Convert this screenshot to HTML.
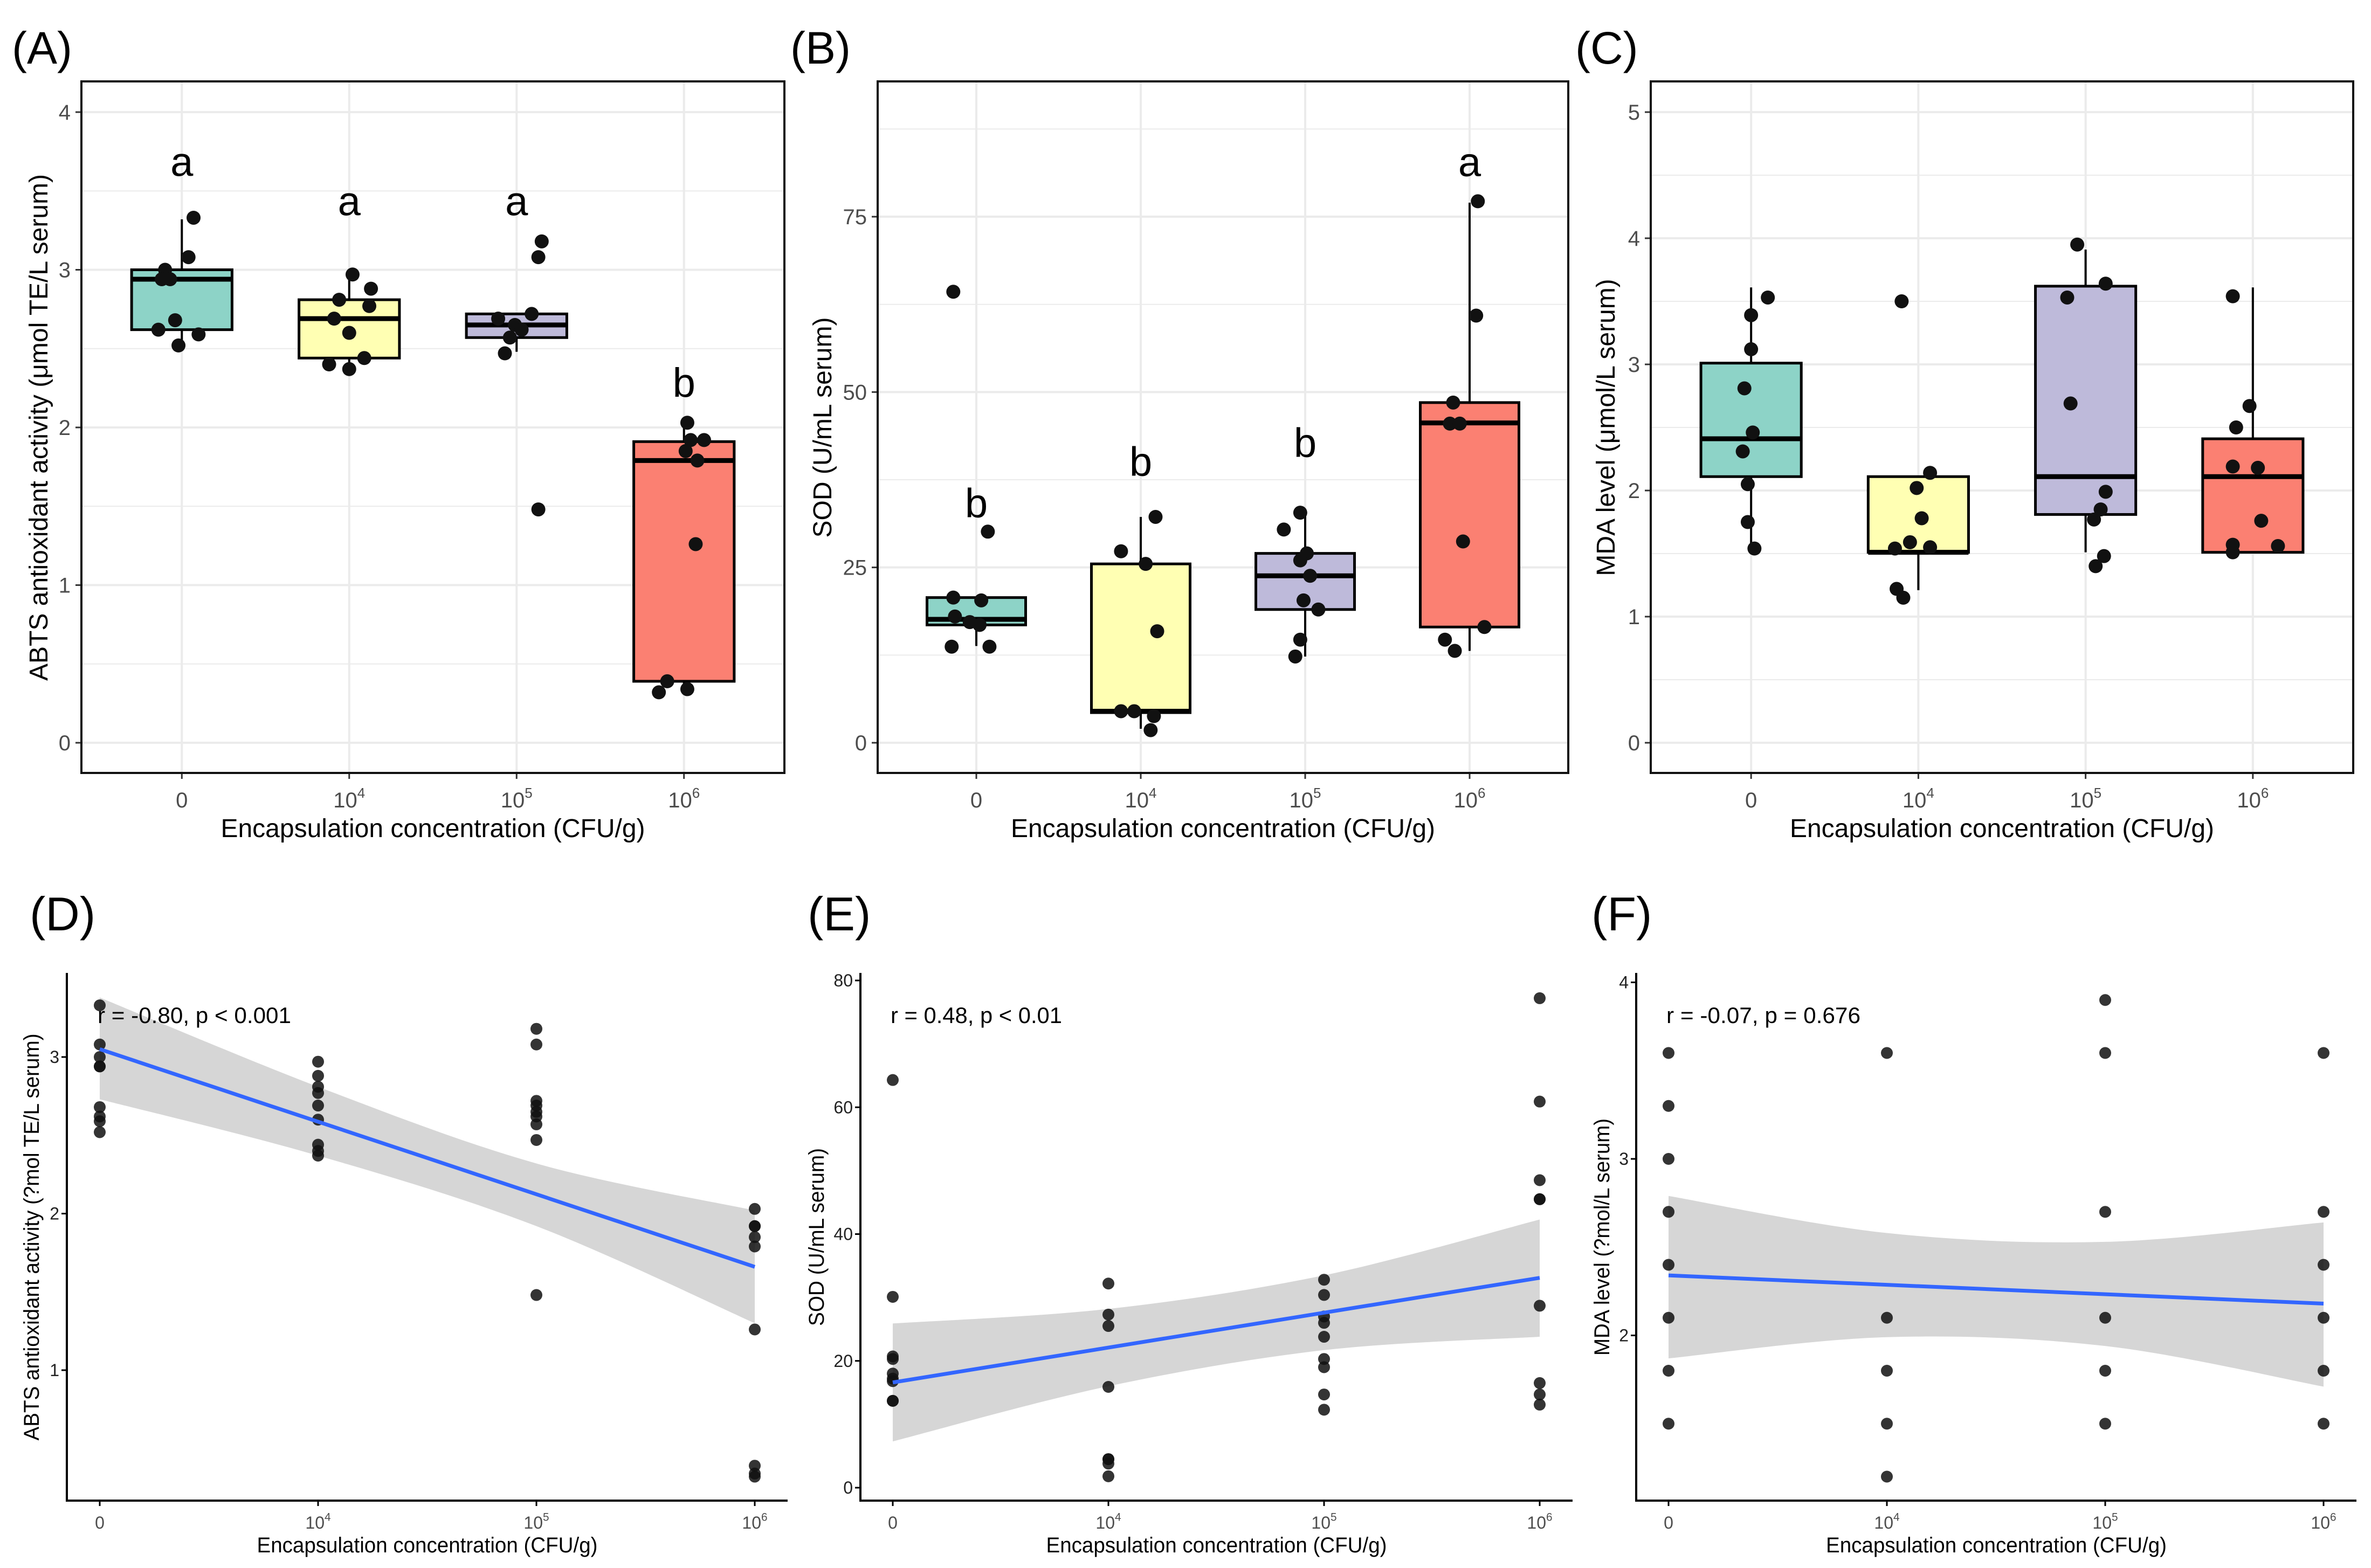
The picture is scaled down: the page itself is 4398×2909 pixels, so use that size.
<!DOCTYPE html>
<html><head><meta charset="utf-8">
<style>
html,body{margin:0;padding:0;background:#fff;}
svg{display:block;font-family:"Liberation Sans",Arial,sans-serif;}
</style></head>
<body>
<svg id="fig" width="4398" height="2909" viewBox="0 0 4398 2909" xmlns="http://www.w3.org/2000/svg"></svg>
<script>
// ---------- DATA ----------
const categories = ["0","10^4","10^5","10^6"];
const boxColors = ["#8DD3C7","#FFFFB3","#BEBADA","#FB8072"];

// Panel A ABTS values per group
const abts0 = [3.33,3.08,3.00,2.94,2.94,2.68,2.62,2.59,2.52];
const abts1 = [2.97,2.88,2.81,2.77,2.69,2.60,2.44,2.40,2.37];
const abts2 = [3.18,3.08,2.72,2.69,2.65,2.62,2.57,2.47,1.48];
const abts3 = [2.03,1.92,1.92,1.85,1.79,1.26,0.39,0.32,0.34];
const abtsJit0 = [.07,.04,-.10,-.12,-.07,-.04,-.14,.10,-.02];
const abtsJit1 = [.02,.13,-.06,.12,-.09,0,.09,-.12,0];
const abtsJit2 = [.15,.13,.09,-.11,-.01,.03,-.04,-.07,.13];
const abtsJit3 = [.02,.04,.12,.01,.08,.07,-.10,-.15,.02];
// box stats [q1, median, q3, whiskerLow, whiskerHigh]
const abtsBox = [[2.62,2.94,3.00,2.52,3.32],[2.44,2.69,2.81,2.37,2.97],[2.57,2.65,2.72,2.48,2.72],[0.39,1.79,1.91,0.32,2.03]];
const abtsLetters = ["a","a","a","b"];
const abtsLetterY = [3.68,3.43,3.43,2.28];

// Panel B SOD
const sod0 = [64.3,30.1,20.7,20.3,18.0,17.2,16.8,13.7,13.7];
const sod1 = [32.2,27.3,25.5,15.9,4.5,4.5,3.8,1.8];
const sod2 = [32.8,30.4,27.0,26.0,23.8,20.3,19.0,14.7,12.3];
const sod3 = [77.2,60.9,48.5,45.5,45.5,28.7,16.5,14.7,13.1];
const sodJit0 = [-.14,.07,-.14,.03,-.13,-.04,.02,-.15,.08];
const sodJit1 = [.09,-.12,.03,.10,-.12,-.04,.08,.06];
const sodJit2 = [-.03,-.13,.01,-.03,.03,-.01,.08,-.03,-.06];
const sodJit3 = [.05,.04,-.10,-.12,-.06,-.04,.09,-.15,-.09];
const sodBox = [[16.8,17.6,20.7,13.8,20.7],[4.3,4.5,25.5,2.0,32.2],[19.0,23.8,27.0,12.3,32.8],[16.5,45.6,48.5,13.1,77.0]];
const sodLetters = ["b","b","b","a"];
const sodLetterY = [34.1,40.0,42.7,82.7];

// Panel C MDA
const mda0 = [3.53,3.39,3.12,2.81,2.46,2.31,2.05,1.75,1.54];
const mda1 = [3.50,2.14,2.02,1.78,1.59,1.54,1.55,1.22,1.15];
const mda2 = [3.95,3.64,3.53,2.69,1.99,1.85,1.77,1.48,1.40];
const mda3 = [3.54,2.67,2.50,2.19,2.18,1.76,1.57,1.56,1.51];
const mdaJit0 = [.10,0,0,-.04,.01,-.05,-.02,-.02,.02];
const mdaJit1 = [-.10,.07,-.01,.02,-.05,-.14,.07,-.13,-.09];
const mdaJit2 = [-.05,.12,-.11,-.09,.12,.09,.05,.11,.06];
const mdaJit3 = [-.12,-.02,-.10,-.12,.03,.05,-.12,.15,-.12];
const mdaBox = [[2.11,2.41,3.01,1.54,3.61],[1.51,1.51,2.11,1.21,2.11],[1.81,2.11,3.62,1.51,3.91],[1.51,2.11,2.41,1.51,3.61]];

// Panel F MDA (as plotted in correlation panel)
const mdaF0 = [3.6,3.3,3.0,2.7,2.4,2.1,1.8,1.5];
const mdaF1 = [3.6,2.1,1.8,1.5,1.2];
const mdaF2 = [3.9,3.6,2.7,2.1,1.8,1.5];
const mdaF3 = [3.6,2.7,2.4,2.1,1.8,1.5];

// regression lines [at first cat, at last cat] and CI bands per category
const dLine = [3.05,1.66];
const dBandHi = [3.38,2.81,2.32,2.02];
const dBandLo = [2.73,2.37,1.92,1.30];
const eLine = [16.6,33.1];
const eBandHi = [25.9,28.2,33.5,42.3];
const eBandLo = [7.3,16.0,21.7,23.8];
const fLine = [2.34,2.18];
const fBandHi = [2.79,2.58,2.53,2.64];
const fBandLo = [1.87,1.99,1.94,1.71];

const abtsTicks = [0,1,2,3,4];
const sodTicks = [0,25,50,75];
const mdaTicks = [0,1,2,3,4,5];
const dTicks = [1,2,3];
const eTicks = [0,20,40,60,80];
const fTicks = [2,3,4];
const dStat = "r = -0.80, p < 0.001";
const eStat = "r = 0.48, p < 0.01";
const fStat = "r = -0.07, p = 0.676";

// ---------- DRAWING ----------
const NS = "http://www.w3.org/2000/svg";
const svg = document.getElementById("fig");
function mk(tag, attrs, parent){
  const e = document.createElementNS(NS, tag);
  for (const k in attrs) e.setAttribute(k, attrs[k]);
  (parent||svg).appendChild(e);
  return e;
}
function catLabel(parent, x, y, i, fs, name){
  const t = mk("text", {x:x, y:y, "text-anchor":"middle", "font-size":fs, fill:"#4d4d4d"}, parent);
  
  
  const c = categories[i];
  if (c.indexOf("^") < 0) { t.textContent = c; return t; }
  const parts = c.split("^");
  const a = document.createElementNS(NS, "tspan"); a.textContent = parts[0]; t.appendChild(a);
  const b = document.createElementNS(NS, "tspan"); b.textContent = parts[1];
  b.setAttribute("dy", -fs*0.45); b.setAttribute("font-size", fs*0.65); t.appendChild(b);
  return t;
}
function panelLetter(txt, x, y, fs){
  const t = mk("text", {x:x, y:y, "font-size":fs, fill:"#000"});
  
  
  t.textContent = txt;
}

// ---- Box panels ----
function boxPanel(cfg){
  const g = mk("g", {});
  
  
  const W = cfg.R - cfg.L, unit = W/4.2;
  const X = i => cfg.L + (i+0.6)*unit;
  const Y = v => cfg.y0 - v*cfg.k;
  const step = cfg.ticks[1]-cfg.ticks[0];
  for (let v = step/2; Y(v) > cfg.T; v += step) {
    const l = mk("line", {x1:cfg.L, x2:cfg.R, y1:Y(v), y2:Y(v), stroke:"#ebebeb", "stroke-width":2}, g);
    
    
  }
  cfg.ticks.forEach(v => {
    const l = mk("line", {x1:cfg.L, x2:cfg.R, y1:Y(v), y2:Y(v), stroke:"#ebebeb", "stroke-width":4}, g);
    
    
    const tk = mk("line", {x1:cfg.L-11, x2:cfg.L, y1:Y(v), y2:Y(v), stroke:"#333", "stroke-width":3}, g);
    
    
    const t = mk("text", {x:cfg.L-20, y:Y(v)+14, "text-anchor":"end", "font-size":40, fill:"#4d4d4d"}, g);
    
    
    t.textContent = v;
  });
  for (let i=0;i<4;i++){
    const l = mk("line", {x1:X(i), x2:X(i), y1:cfg.T, y2:cfg.B, stroke:"#ebebeb", "stroke-width":4}, g);
    
    
    const tk = mk("line", {x1:X(i), x2:X(i), y1:cfg.B, y2:cfg.B+11, stroke:"#333", "stroke-width":3}, g);
    
    
    catLabel(g, X(i), cfg.B+64, i, 40, 'x-tick-label');
  }
  const hw = 0.3*unit;
  for (let i=0;i<4;i++){
    const s = cfg.box[i];
    const bg = mk("g", {}, g);
    
    
    const w1 = mk("line", {x1:X(i), x2:X(i), y1:Y(s[2]), y2:Y(s[4]), stroke:"#000", "stroke-width":4}, bg);
    
    
    const w2 = mk("line", {x1:X(i), x2:X(i), y1:Y(s[0]), y2:Y(s[3]), stroke:"#000", "stroke-width":4}, bg);
    
    
    const r = mk("rect", {x:X(i)-hw, y:Y(s[2]), width:2*hw, height:Y(s[0])-Y(s[2]), fill:cfg.colors[i], stroke:"#000", "stroke-width":5}, bg);
    
    
    const m = mk("line", {x1:X(i)-hw, x2:X(i)+hw, y1:Y(s[1]), y2:Y(s[1]), stroke:"#000", "stroke-width":9}, bg);
    
    
  }
  for (let i=0;i<4;i++){
    cfg.pts[i].forEach((v,j) => {
      const c = mk("circle", {cx:X(i)+cfg.jit[i][j]*unit, cy:Y(v), r:13, fill:"#111"}, g);
      
      
    });
  }
  if (cfg.letters){
    for (let i=0;i<4;i++){
      const t = mk("text", {x:X(i), y:Y(cfg.letterY[i])+25, "text-anchor":"middle", "font-size":76, fill:"#000"}, g);
      
      
      t.textContent = cfg.letters[i];
    }
  }
  const fr = mk("rect", {x:cfg.L, y:cfg.T, width:W, height:cfg.B-cfg.T, fill:"none", stroke:"#111", "stroke-width":4}, g);
  
  
  const xt = mk("text", {x:(cfg.L+cfg.R)/2, y:1553, "text-anchor":"middle", "font-size":48, fill:"#000"}, g);
  
  
  xt.textContent = "Encapsulation concentration (CFU/g)";
  const yt = mk("text", {x:0, y:0, "text-anchor":"middle", "font-size":48, fill:"#000", transform:`translate(${cfg.ytx},793) rotate(-90)`}, g);
  
  
  yt.textContent = cfg.ytitle;
}

boxPanel({name:"panel-a-abts-boxplot", L:151, R:1455, T:151, B:1434, y0:1378, k:292.5, ticks:abtsTicks,
  box:abtsBox, pts:[abts0,abts1,abts2,abts3], jit:[abtsJit0,abtsJit1,abtsJit2,abtsJit3], colors:boxColors,
  letters:abtsLetters, letterY:abtsLetterY, ytx:88, ytitle:"ABTS antioxidant activity (\u03bcmol TE/L serum)"});
boxPanel({name:"panel-b-sod-boxplot", L:1628, R:2909, T:151, B:1434, y0:1378, k:13.013, ticks:sodTicks,
  box:sodBox, pts:[sod0,sod1,sod2,sod3], jit:[sodJit0,sodJit1,sodJit2,sodJit3], colors:boxColors,
  letters:sodLetters, letterY:sodLetterY, ytx:1542, ytitle:"SOD (U/mL serum)"});
boxPanel({name:"panel-c-mda-boxplot", L:3062, R:4365, T:151, B:1434, y0:1378, k:234, ticks:mdaTicks,
  box:mdaBox, pts:[mda0,mda1,mda2,mda3], jit:[mdaJit0,mdaJit1,mdaJit2,mdaJit3], colors:boxColors,
  letters:null, ytx:2995, ytitle:"MDA level (\u03bcmol/L serum)"});

panelLetter("(A)", 22, 118, 84);
panelLetter("(B)", 1466, 118, 84);
panelLetter("(C)", 2922, 118, 84);

// ---- Scatter panels ----
function smoothPath(pts){
  let d = `M${pts[0][0]},${pts[0][1]}`;
  for (let i=0;i<pts.length-1;i++){
    const p0 = pts[Math.max(0,i-1)], p1 = pts[i], p2 = pts[i+1], p3 = pts[Math.min(pts.length-1,i+2)];
    const c1 = [p1[0]+(p2[0]-p0[0])/6, p1[1]+(p2[1]-p0[1])/6];
    const c2 = [p2[0]-(p3[0]-p1[0])/6, p2[1]-(p3[1]-p1[1])/6];
    d += ` C${c1[0]},${c1[1]} ${c2[0]},${c2[1]} ${p2[0]},${p2[1]}`;
  }
  return d;
}
function scatterPanel(cfg){
  const g = mk("g", {});
  
  
  const X = i => cfg.x0 + i*cfg.dx;
  const Y = v => cfg.yRef - (v - cfg.vRef)*cfg.k;
  const hi = cfg.hi.map((v,i)=>[X(i),Y(v)]);
  const lo = cfg.lo.map((v,i)=>[X(i),Y(v)]).reverse();
  let d = smoothPath(hi);
  d += ` L${lo[0][0]},${lo[0][1]}` + smoothPath(lo).replace(/^M[^C]*/, " ") + " Z";
  const band = mk("path", {d:d, fill:"#d6d6d6"}, g);
  
  
  cfg.pts.forEach((arr,i) => arr.forEach(v => {
    const c = mk("circle", {cx:X(i), cy:Y(v), r:11, fill:"#111", "fill-opacity":0.85}, g);
    
    
  }));
  const ln = mk("line", {x1:X(0), y1:Y(cfg.line[0]), x2:X(3), y2:Y(cfg.line[1]), stroke:"#3366FF", "stroke-width":7}, g);
  
  
  const ya = mk("line", {x1:cfg.L, x2:cfg.L, y1:cfg.T, y2:cfg.B, stroke:"#000", "stroke-width":4}, g);
  
  
  const xa = mk("line", {x1:cfg.L-2, x2:cfg.R, y1:cfg.B, y2:cfg.B, stroke:"#000", "stroke-width":4}, g);
  
  
  cfg.ticks.forEach(v => {
    const tk = mk("line", {x1:cfg.L-10, x2:cfg.L, y1:Y(v), y2:Y(v), stroke:"#000", "stroke-width":3}, g);
    
    
    const t = mk("text", {x:cfg.L-14, y:Y(v)+11, "text-anchor":"end", "font-size":32, fill:"#222"}, g);
    
    
    t.textContent = v;
  });
  for (let i=0;i<4;i++){
    const tk = mk("line", {x1:X(i), x2:X(i), y1:cfg.B, y2:cfg.B+10, stroke:"#000", "stroke-width":3}, g);
    
    
    catLabel(g, X(i), cfg.B+52, i, 32, 'x-tick-label');
  }
  const st = mk("text", {x:cfg.x0-4, y:1898, "font-size":42, fill:"#000", textLength:cfg.statW, lengthAdjust:"spacingAndGlyphs"}, g);
  
  
  st.textContent = cfg.stat;
  const xt = mk("text", {x:(cfg.L+cfg.R)/2, y:2880, "text-anchor":"middle", "font-size":40, fill:"#000", textLength:632, lengthAdjust:"spacingAndGlyphs"}, g);
  
  
  xt.textContent = "Encapsulation concentration (CFU/g)";
  const yt = mk("text", {x:0, y:0, "text-anchor":"middle", "font-size":40, fill:"#000", textLength:cfg.ytW, lengthAdjust:"spacingAndGlyphs", transform:`translate(${cfg.ytx},2295) rotate(-90)`}, g);
  
  
  yt.textContent = cfg.ytitle;
}

scatterPanel({name:"panel-d-abts-correlation", L:124, R:1461, T:1805, B:2784, x0:185, dx:405,
  yRef:1961, vRef:3, k:290.5, ticks:dTicks, pts:[abts0,abts1,abts2,abts3], line:dLine, hi:dBandHi, lo:dBandLo,
  stat:dStat, statW:359, ytx:72, ytW:755, ytitle:"ABTS antioxidant activity (?mol TE/L serum)"});
scatterPanel({name:"panel-e-sod-correlation", L:1596, R:2917, T:1805, B:2784, x0:1656, dx:400,
  yRef:2760, vRef:0, k:11.7625, ticks:eTicks, pts:[sod0,sod1,sod2,sod3], line:eLine, hi:eBandHi, lo:eBandLo,
  stat:eStat, statW:318, ytx:1528, ytW:330, ytitle:"SOD (U/mL serum)"});
scatterPanel({name:"panel-f-mda-correlation", L:3035, R:4371, T:1805, B:2784, x0:3095, dx:405,
  yRef:2150, vRef:3, k:327.5, ticks:fTicks, pts:[mdaF0,mdaF1,mdaF2,mdaF3], line:fLine, hi:fBandHi, lo:fBandLo,
  stat:fStat, statW:360, ytx:2985, ytW:440, ytitle:"MDA level (?mol/L serum)"});

panelLetter("(D)", 55, 1726, 88);
panelLetter("(E)", 1498, 1726, 88);
panelLetter("(F)", 2952, 1726, 88);
</script>
</body></html>
